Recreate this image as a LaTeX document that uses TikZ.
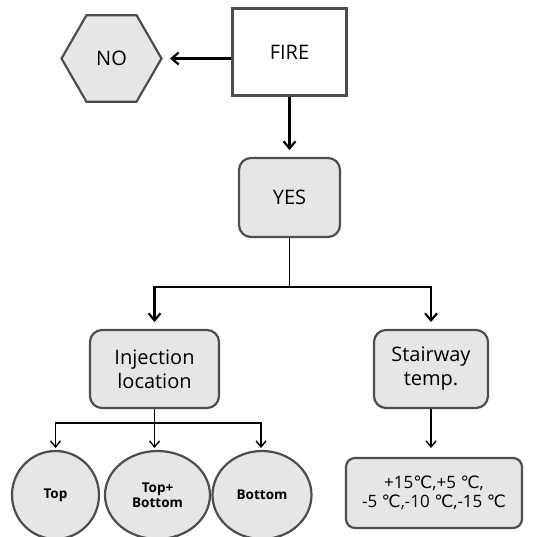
\documentclass[tikz,border=0pt]{standalone}
\usepackage{fontspec}
\setmainfont{Open Sans}
\newfontfamily\dejavu{DejaVu Sans}
\usetikzlibrary{shapes.geometric,arrows.meta}
\newcommand{\degc}{{\dejavu ℃}}
\definecolor{boxgray}{HTML}{E6E6E6}
\definecolor{edgegray}{HTML}{4D4D4D}
\tikzset{
  basebox/.style={draw=edgegray, line width=2.2pt, align=center, inner sep=0pt},
  firebox/.style={basebox, fill=white, minimum width=114pt, minimum height=87pt, font=\fontsize{20}{24}\selectfont},
  roundbox/.style={basebox, fill=boxgray, rounded corners=12pt, font=\fontsize{20}{24}\selectfont},
  hexbox/.style={basebox, fill=boxgray, regular polygon, regular polygon sides=6, minimum size=100pt, font=\fontsize{20}{24}\selectfont},
  ovalbox/.style={basebox, fill=boxgray, ellipse, font=\fontsize{13.5}{15}\selectfont\bfseries},
  bigarrow/.style={line width=2.2pt, -{Straight Barb[length=7pt,width=12pt,line width=2.2pt]}},
  smallarrow/.style={line width=1.4pt, -{Straight Barb[length=6pt,width=10pt,line width=1.4pt]}},
}
\begin{document}
\begin{tikzpicture}[x=1pt,y=-1pt]
\useasboundingbox (0,0) rectangle (534,537);
\node[firebox] (fire) at (289.5,52) {FIRE};
\node[hexbox] (no) at (111.5,58.5) {NO};
\node[roundbox, minimum width=101pt, minimum height=79pt] (yes) at (289.5,197.5) {YES};
\node[roundbox, minimum width=129pt, minimum height=78pt] (inj) at (154.5,369) {Injection\\location};
\node[roundbox, minimum width=114pt, minimum height=78pt] (stair) at (431,369) {Stairway\\temp.};
\node[ovalbox, minimum width=87pt, minimum height=88pt] (top) at (55.5,495) {Top};
\node[ovalbox, minimum width=105pt, minimum height=88pt] (topbot) at (157.5,495) {Top+\\Bottom};
\node[ovalbox, minimum width=99pt, minimum height=88pt] (bot) at (262,495) {Bottom};
\node[roundbox, rounded corners=9pt, minimum width=176pt, minimum height=70pt, font=\fontsize{17}{19}\selectfont] (temp) at (434,493) {+15\degc,+5 \degc,\\-5 \degc,-10 \degc,-15 \degc};
% connectors
\coordinate (noin) at (170,58.5);
\draw[bigarrow] (fire.west |- noin) -- (noin);
\coordinate (yestop) at (289.5,150);
\draw[bigarrow] (fire.south) -- (yestop);
\coordinate (split) at (289.5,287);
\coordinate (injin) at (154.5,322);
\coordinate (stairin) at (431,322);
\draw[line width=1.6pt] (yes.south) -- (split);
\draw[bigarrow] (split) -| (injin);
\draw[bigarrow] (split) -| (stairin);
\coordinate (isplit) at (154.5,423);
\draw[line width=1.4pt] (inj.south) -- (isplit);
\coordinate (topin) at (55.5,448);
\coordinate (tbin) at (154.5,448);
\coordinate (botin) at (261,448);
\draw[smallarrow] (isplit) -| (topin);
\draw[smallarrow] (isplit) -- (tbin);
\draw[smallarrow] (isplit) -| (botin);
\coordinate (tempin) at (431,448);
\draw[smallarrow] (stair.south) -- (tempin);
\end{tikzpicture}
\end{document}
